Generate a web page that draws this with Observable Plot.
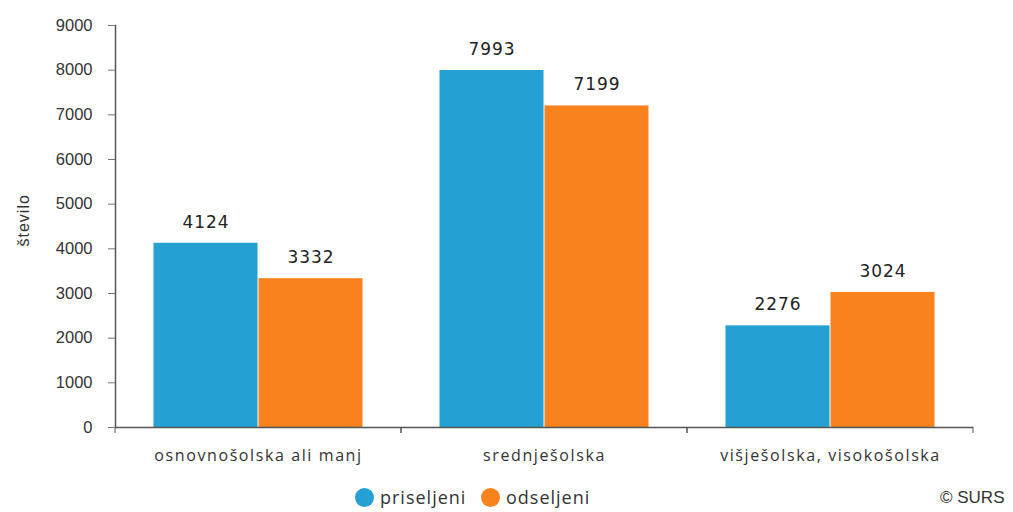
<!DOCTYPE html>
<html><head><meta charset="utf-8">
<script src="https://cdn.jsdelivr.net/npm/d3@7"></script>
<script src="https://cdn.jsdelivr.net/npm/@observablehq/plot@0.6"></script>
<style>
body{margin:0;background:#fff;}
#wrap{position:relative;width:1013px;height:512px;overflow:hidden;}
#wrap svg{position:absolute;left:0;top:0;}
#wrap svg g[aria-label="fx-axis tick label"] text{letter-spacing:1.6px;}
#wrap svg g[aria-label="text"] text{letter-spacing:1px;}
#legend{position:absolute;left:0;top:484px;width:1013px;height:26px;font-family:"Open Sans","Noto Sans",sans-serif;font-size:18px;letter-spacing:1px;color:#333;}
.item{position:absolute;top:0;display:flex;align-items:center;height:26px;}
.dot{width:19px;height:19px;border-radius:50%;margin-right:6px;}
#credit{position:absolute;left:940px;top:488px;font-family:"Liberation Sans",Arial,sans-serif;font-size:17px;color:#333;}
</style></head><body><div id="wrap"><div id="legend"></div><div id="credit"></div></div>
<script>
const categories = ["osnovnošolska ali manj", "srednješolska", "višješolska, visokošolska"];
const seriesNames = ["priseljeni", "odseljeni"];
const priseljeni = [4124, 7993, 2276];
const odseljeni = [3332, 7199, 3024];
const yTicks = [0, 1000, 2000, 3000, 4000, 5000, 6000, 7000, 8000, 9000];
const colors = ["#24a0d2", "#f7821e"];
const yLabel = "število";
const credit = "© SURS";

const data = categories.flatMap((c, i) => [
  {cat: c, series: seriesNames[0], value: priseljeni[i]},
  {cat: c, series: seriesNames[1], value: odseljeni[i]}
]);

const W = 1013, H = 478, BASE = 427;

function boundaryTicks() {
  return (index, scales, values, dims) => {
    const g = d3.create("svg:g");
    const r = scales.x.range ? scales.x.range() : [dims.marginLeft, dims.width - dims.marginRight];
    const y0 = scales.y(0);
    for (const x of r) {
      g.append("line").attr("x1", x).attr("x2", x).attr("y1", y0).attr("y2", y0 + 6)
        .attr("stroke", "#555").attr("stroke-width", 1);
    }
    return g.node();
  };
}

const chart = Plot.plot({
  width: W,
  height: H,
  marginLeft: 114,
  marginRight: 39,
  marginTop: 25,
  marginBottom: H - BASE,
  style: {fontFamily: "'Liberation Sans', Arial, sans-serif", fontSize: "14px", color: "#333", background: "#fff"},
  fx: {domain: categories, padding: 0},
  x: {domain: seriesNames, paddingInner: 0, paddingOuter: 0.35},
  y: {domain: [0, 9000]},
  color: {domain: seriesNames, range: colors},
  marks: [
    Plot.barY(data, {fx: "cat", x: "series", y: "value", fill: "series", insetRight: 0.5, insetLeft: 0.5}),
    Plot.text(data, {fx: "cat", x: "series", y: "value", text: d => String(d.value), dy: -21,
      fontFamily: "'DejaVu Sans', Verdana, sans-serif", fontSize: 17, fill: "#222"}),
    Plot.ruleY([0], {stroke: "#555", strokeWidth: 1.5}),
    boundaryTicks(),
    Plot.frame({anchor: "left", facetAnchor: "left", stroke: "#555", strokeWidth: 1.5}),
    Plot.axisY({ticks: yTicks, tickSize: 7, tickPadding: 16, tickFormat: d => String(d), stroke: "#777",
      fill: "#333", fontSize: 16.5, label: null}),
    Plot.text([yLabel], {fx: d => categories[0], frameAnchor: "left", dx: -92, dy: 20, rotate: -90,
      fontSize: 16, fill: "#333", text: d => d}),
    Plot.axisX({ticks: [], label: null}),
    Plot.axisFx({anchor: "bottom", tickSize: 0, tickPadding: 22, label: null,
      fontFamily: "'Open Sans', 'Noto Sans', sans-serif", fontSize: 16, fill: "#333"})
  ]
});

document.getElementById("wrap").prepend(chart);

// legend
const legendX = [355, 481];
const legend = document.getElementById("legend");
seriesNames.forEach((s, i) => {
  const item = document.createElement("div");
  item.className = "item";
  item.style.left = legendX[i] + "px";
  const dot = document.createElement("span");
  dot.className = "dot";
  dot.style.background = colors[i];
  const label = document.createElement("span");
  label.textContent = s;
  item.append(dot, label);
  legend.append(item);
});
document.getElementById("credit").textContent = credit;
</script>
</body></html>
